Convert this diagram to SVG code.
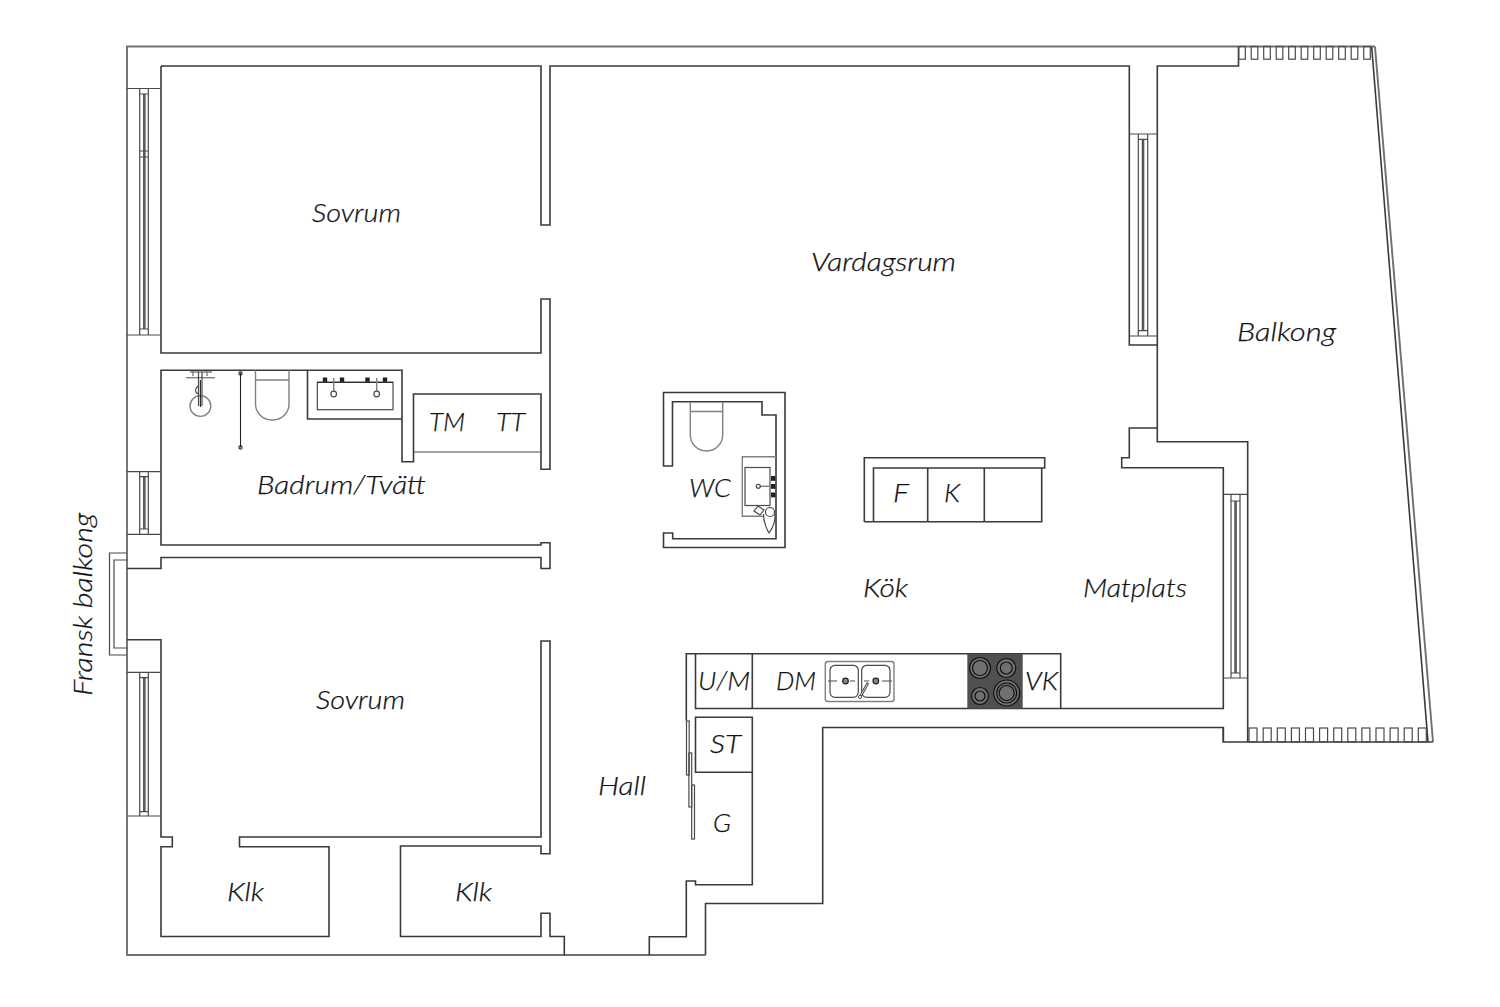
<svg xmlns="http://www.w3.org/2000/svg" width="1500" height="1007" viewBox="0 0 1500 1007">
<style>
.w{fill:none;stroke:#3a3a3a;stroke-width:1.6;stroke-linejoin:miter}
.o{fill:none;stroke:#707070;stroke-width:1.9}
.t{fill:none;stroke:#4a4a4a;stroke-width:1.2}
.l{fill:none;stroke:#808080;stroke-width:1.4}
.k{fill:none;stroke:#222;stroke-width:1.1}
.b{fill:#222}
text{font-family:"Lato","Open Sans","Liberation Sans",sans-serif;font-style:italic;font-weight:300;font-size:26px;fill:#111;stroke:#111;stroke-width:.25}
</style>
<defs>
<g id="pt"><rect x="0" y="0" width="6.6" height="12.7"/></g>
<g id="pb"><rect x="0" y="0" width="8" height="14"/></g>
</defs>
<rect width="1500" height="1007" fill="#fff"/>
<g id="walls">
<path class="o" d="M1375 46.5H127V955H705.5"/>
<path class="w" d="M161 66H541V225H550V66H1129.3V345H1157.3V66H1238.5V46.5"/>
<path class="w" d="M161 66V353H541V299H550V469.3H541V394H413.5V461.7H402V370.3H161V545H541V542.7H550V568.5H541V557.5H161V568.5H127"/>
<path class="w" d="M127 639.7H161V837H172.3V846.7H161V936.5H329V846.7H239.5V837H541V641H550V853.7H541V846H400.5V936.5H541V913.3H550V936.5H564.3V955"/>
<path class="w" d="M649.3 955V936.7H686.3V881H695.5V884.7H752.3V717.3H695.5V772.3H752.3"/>
<path class="w" d="M705.5 955V903.5H822.7V727.5H1223.3V742H1433"/>
<path class="w" d="M686.3 720.5V653.7H1060.7V708.5H695.5V653.7M752.3 653.7V708.5M1060.7 708.5H1223.3V467.7H1121.7V457.7H1129.3V428H1157.3V345M1157.3 428V441.7H1247.7V742M1223.3 727V742"/>
<path class="o" d="M1375 46.5L1433 742"/>
<path class="w" d="M1371.7 47L1428 742"/>
</g>
<g id="fransk-balkong">
<path class="t" d="M127 553H109.5V655H127M127 560H114V648H127"/>
</g>
<g id="windows">
<path class="t" d="M127 88.5H161M139.7 88.5H148.3M139.7 88.5V335M148.3 88.5V335M143.7 94V329M145 94V329M139.7 94H148.3M139.7 151H148.3M139.7 157H148.3M139.7 329H148.3M127 335H161"/>
<path class="t" d="M127 471.7H161M139.7 471.7V534.3M148.3 471.7V534.3M143.7 476.7V529M145 476.7V529M139.7 476.7H148.3M139.7 529H148.3M127 534.3H161"/>
<path class="t" d="M127 672.3H161M139.7 672.3V816M148.3 672.3V816M143.7 677.7V811.7M145 677.7V811.7M139.7 677.7H148.3M139.7 811.7H148.3M127 816H161"/>
<path class="t" d="M1129.3 134H1157.3M1138.3 134V336M1147.7 134V336M1142.4 139.3V330.7M1143.7 139.3V330.7M1138.3 139.3H1147.7M1138.3 330.7H1147.7M1129.3 336H1157.3"/>
<path class="t" d="M1223.3 494.3H1247.7M1231 494.3V678M1240 494.3V678M1234.9 501V673M1236.2 501V673M1231 501H1240M1231 673H1240M1223.3 678H1247.7"/>
</g>
<g id="balcony-rails" class="t">
<use href="#pt" x="1238.7" y="46.5"/><use href="#pt" x="1251.2" y="46.5"/><use href="#pt" x="1263.7" y="46.5"/><use href="#pt" x="1276.2" y="46.5"/><use href="#pt" x="1288.7" y="46.5"/><use href="#pt" x="1301.2" y="46.5"/><use href="#pt" x="1313.7" y="46.5"/><use href="#pt" x="1326.2" y="46.5"/><use href="#pt" x="1338.7" y="46.5"/><use href="#pt" x="1351.2" y="46.5"/><use href="#pt" x="1363.7" y="46.5"/>
<use href="#pb" x="1249" y="728"/><use href="#pb" x="1263.2" y="728"/><use href="#pb" x="1277.3" y="728"/><use href="#pb" x="1291.4" y="728"/><use href="#pb" x="1305.5" y="728"/><use href="#pb" x="1319.6" y="728"/><use href="#pb" x="1333.7" y="728"/><use href="#pb" x="1347.8" y="728"/><use href="#pb" x="1361.9" y="728"/><use href="#pb" x="1376" y="728"/><use href="#pb" x="1390.1" y="728"/><use href="#pb" x="1404.2" y="728"/><use href="#pb" x="1418.3" y="728"/>
</g>
<g id="laundry"><path class="t" d="M413.5 452H541"/></g>
<g id="bath-sink">
<path class="w" d="M307.5 370.3V419H402"/>
<rect class="t" x="317.3" y="382.3" width="75.7" height="27.4"/>
<path class="k" d="M317.3 382.3H393" stroke-width="1.4"/>
<rect class="b" x="322.8" y="377.5" width="4.4" height="4.4"/><rect class="b" x="339.8" y="377.5" width="4.4" height="4.4"/><rect class="b" x="365.3" y="377.5" width="4.4" height="4.4"/><rect class="b" x="382.8" y="377.5" width="4.4" height="4.4"/>
<path class="l" d="M333.7 378V391M376.7 378V391" stroke-width="2.6"/>
<circle class="t" cx="333.7" cy="394" r="2.8"/><circle class="t" cx="376.7" cy="394" r="2.8"/>
</g>
<g id="bath-toilet">
<path class="l" d="M255.5 370.3V404A16 16 0 0 0 271.5 420H273A16 16 0 0 0 289 404V370.3M255.5 380H289"/>
</g>
<g id="shower">
<path class="k" d="M240.5 373V447.5" stroke-width="1.3"/>
<circle class="k" cx="240.5" cy="373.5" r="1.6"/><circle class="k" cx="240.5" cy="447.5" r="1.6"/>
<circle class="l" cx="200.4" cy="406" r="10.4"/>
<path class="l" d="M186 377.7H215" stroke-width="2.4"/>
<path class="l" d="M190 372H212M193 371V376M207 371V376"/>
<path class="t" d="M198.5 372V406M202 372V406M198 386Q193 391 198 394"/>
<path class="k" d="M200.4 380V407" stroke-width="1.6"/>
</g>
<g id="wc">
<path class="w" d="M663.5 392.5H785V547.5H663.5V533H672.7V538.7H776V415H762V401.7H672.5V466H663.5Z"/>
<path class="l" d="M690.3 401.7V435A16 16 0 0 0 706.3 451H706.7A16 16 0 0 0 722.7 435V401.7M690.3 411.5H722.7"/>
<path class="l" d="M776 456.7H742.3V516.3H764"/>
<rect class="t" x="745" y="467.5" width="25" height="38"/>
<path class="l" d="M760 486.3H772" stroke-width="2"/>
<circle class="t" cx="758.3" cy="486.3" r="2"/>
<rect class="b" x="771" y="476" width="4.4" height="4.8"/><rect class="b" x="771" y="484" width="4.4" height="4.8"/><rect class="b" x="771" y="492.5" width="4.4" height="4.8"/>
<path class="t" d="M754 511L758 506L764 510L760 515Z" stroke-width="1.8"/>
<path class="t" d="M763.5 514C763.5 522 767 530 769 533C772 529 775.5 522 775 514"/>
<circle class="t" cx="770" cy="512" r="4.5"/>
</g>
<g id="island">
<path class="w" d="M864.3 521.7V457.7H1044.7V468H873.5V521.7M864.3 521.7H1041.7V468M927.7 468V521.7M984.3 468V521.7"/>
</g>
<g id="kitchen-sink">
<rect class="l" x="825.3" y="661.5" width="68.7" height="40" rx="2.5" stroke-width="2.4"/>
<rect class="t" x="830" y="665.3" width="28.3" height="32" rx="5"/>
<rect class="t" x="861.7" y="665.3" width="28.3" height="32" rx="5"/>
<path class="t" d="M828 681H837M850 681H855M864 681H869M882 681H892"/>
<circle cx="845.5" cy="681" r="2.8" fill="#888" stroke="#222" stroke-width="1.2"/>
<circle cx="875.8" cy="681" r="2.8" fill="#888" stroke="#222" stroke-width="1.2"/>
<path d="M860 697L868 683" stroke="#444" stroke-width="2.6"/>
<path d="M860.5 696L867.5 684" stroke="#ddd" stroke-width="1"/>
<circle cx="860" cy="697" r="1.6" fill="#fff" stroke="#555"/>
</g>
<g id="hob">
<rect x="967.3" y="654" width="55.4" height="54.5" fill="#505050"/>
<g fill="#707070" stroke="#111" stroke-width="1.2">
<circle cx="980" cy="668" r="10.5"/><circle cx="980" cy="668" r="7.5"/>
<circle cx="1006.3" cy="668" r="9.5"/><circle cx="1006.3" cy="668" r="6"/>
<circle cx="980" cy="696" r="8.5"/><circle cx="980" cy="696" r="5"/>
<circle cx="1006.7" cy="693" r="13"/><circle cx="1006.7" cy="693" r="10"/><circle cx="1006.7" cy="693" r="7.5"/>
</g>
</g>
<g id="wardrobe-doors" class="t">
<rect x="686.5" y="721" width="2.7" height="54"/>
<rect x="688.9" y="753" width="2.8" height="54"/>
<rect x="691.7" y="785" width="2.8" height="54"/>
</g>
<g id="labels">
<text x="312" y="222" textLength="89" lengthAdjust="spacingAndGlyphs">Sovrum</text>
<text x="811" y="271" textLength="145" lengthAdjust="spacingAndGlyphs">Vardagsrum</text>
<text x="1237" y="341" textLength="99" lengthAdjust="spacingAndGlyphs">Balkong</text>
<text x="429" y="431" textLength="36" lengthAdjust="spacingAndGlyphs">TM</text>
<text x="496" y="431" textLength="29" lengthAdjust="spacingAndGlyphs">TT</text>
<text x="257" y="494" textLength="169" lengthAdjust="spacingAndGlyphs">Badrum/Tvätt</text>
<text x="689" y="497" textLength="42" lengthAdjust="spacingAndGlyphs">WC</text>
<text x="893" y="502" textLength="16" lengthAdjust="spacingAndGlyphs">F</text>
<text x="944" y="502" textLength="16" lengthAdjust="spacingAndGlyphs">K</text>
<text x="863" y="597" textLength="45" lengthAdjust="spacingAndGlyphs">Kök</text>
<text x="1083" y="597" textLength="104" lengthAdjust="spacingAndGlyphs">Matplats</text>
<text x="316" y="709" textLength="89" lengthAdjust="spacingAndGlyphs">Sovrum</text>
<text x="698" y="690" textLength="52" lengthAdjust="spacingAndGlyphs">U/M</text>
<text x="776" y="690" textLength="40" lengthAdjust="spacingAndGlyphs">DM</text>
<text x="1025" y="690" textLength="33" lengthAdjust="spacingAndGlyphs">VK</text>
<text x="710" y="753" textLength="31" lengthAdjust="spacingAndGlyphs">ST</text>
<text x="713" y="832" textLength="18" lengthAdjust="spacingAndGlyphs">G</text>
<text x="598" y="795" textLength="48" lengthAdjust="spacingAndGlyphs">Hall</text>
<text x="227" y="901" textLength="37" lengthAdjust="spacingAndGlyphs">Klk</text>
<text x="455" y="901" textLength="37" lengthAdjust="spacingAndGlyphs">Klk</text>
<text transform="translate(92 696) rotate(-90)" textLength="183" lengthAdjust="spacingAndGlyphs">Fransk balkong</text>
</g>
</svg>
